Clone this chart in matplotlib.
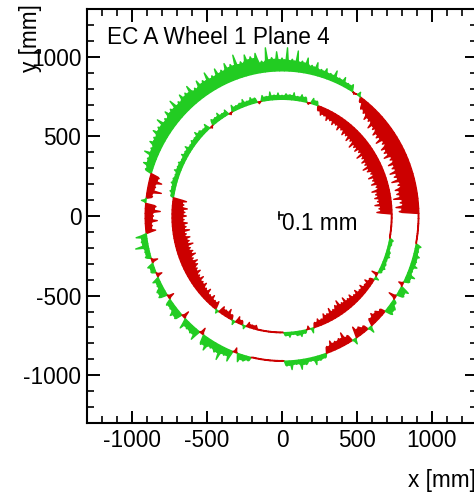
import numpy as np
import matplotlib.pyplot as plt
from matplotlib.collections import PolyCollection
from matplotlib.ticker import MultipleLocator

plt.rcParams["font.family"] = ["Liberation Sans", "DejaVu Sans"]
plt.rcParams["axes.unicode_minus"] = False

# residuals drawn around two rings, one value every STEP_DEG degrees (counter-clockwise from +x)
STEP_DEG = 2
OUTER_R = 912
INNER_R = 733

outer_res = [
    -4,
    -130, -150, -120, -160, -135,
    -140, -115, -150, -125, -145,
    -120, -135, -110, -140, -125,
    -130, -105, -135, -115, -120,
    -100, -115, -85, -95, -70,
    -60, -30,
    25, -10, 40,
    30, 55, 35, 70, 40,
    60, 45, 80, 55, 95,
    70, 130, 75, 145, 80,
    120, 85, 150, 70, 125,
    110, 130, 95, 150, 100,
    120, 90, 115, 85, 125,
    90, 110, 80, 120, 95,
    110, 85, 125, 90, 105,
    80, 115, 85, 100, 75,
    85, 60, 90, 55, 70,
    45,
    -60, -85, -50, -95, -40, 30, -70, -100, -55, -80, -45, -65,
    70, 40, 85, 30,
    35, -40, 40, 30, -35, 45,
    30, 50, 55, -40, 40, 35, 60,
    50, -45, 65, 40, 45, 70, -40,
    60, 80, 45, 55, 90, 45, 70, -30, 50, 35, 25,
    -4, -4, -4, -4, -4, -4, -4,
    30, 55, 25, 60, 35, 20, 50, 30, 25,
    -40, -65, -50, -55, -80, -45, 35, -70, -50, -35,
    40, -45, -60, -50, -35, 50, 45, 25, -50, 45, 60,
    -30, 35, 55, 25, 45, 30, 40, 25, 35,
    -4, -4, -4, -4, -4,
]

inner_res = [
    -4,
    -100, -85, -110, -90, -105,
    -95, -115, -80, -105, -90,
    -110, -85, -100, -120, -95,
    -105, -90, -115, -85, -100,
    -90, -110, -80, -95, -75,
    -85, -65, -80, -60, -70,
    -55, -65, -45, -50, -30,
    25, 35, -10, 30, 40,
    25, 45, 30, 35, 25,
    40, 28, 50, 25, 35,
    -12, 30, 40, 25, 45,
    30, 25, 40, -12, 35,
    25, 45, 30, 35, -12,
    40, 25, 35, 50, 30,
    35, 25, 45, 30, 40,
    25, 35, 30, 40, 25,
    30, 35, 25, 30, 20,
    -90, -75, -100, -85, -95,
    -80, -100, -90, -110, -85,
    -105, -95, -115, -90, -100,
    -110, -85, -105, -95, -80,
    -90, -70, -85, -65, -75,
    -55, -70, -45, -60, -40,
    -50, 20, -45, -35, -55,
    -30, 25, -40, -25, 20,
    -30, -20, -25,
    -4, -4, -4, -4, -4, -4, -4,
    20, 30, 15, 25, 35, 20, -20, 30, -30,
    -45, -35, -60, -50, -75, -55,
    -70, -90, -60, -80, -55, -65,
    -45, -60, -40, -55, -35, -50,
    -30, 25, -40, 20, 30, 25,
    20, 30, 25, 15, 20, 25,
    -4, -4, -4, -4, -4,
]

RED = "#cc0000"
GREEN = "#22cc22"


def ring_polys(r0, res):
    res = np.asarray(res, dtype=float)
    n = len(res)
    theta = np.deg2rad(np.arange(n) * STEP_DEG)
    h = np.deg2rad(STEP_DEG) / 2
    polys, colors = [], []
    for i in range(n):
        d = res[i]
        dl, dr = res[i - 1], res[(i + 1) % n]
        vl = np.sign(d) * min(abs(d), abs(dl)) * 0.85 if d * dl > 0 else 0.0
        vr = np.sign(d) * min(abs(d), abs(dr)) * 0.85 if d * dr > 0 else 0.0
        s = np.sign(d) * max(abs(vl), abs(vr), abs(d) * 0.3)
        t = theta[i]
        angs = np.array([t - h, t - h, t - 0.4 * h, t, t + 0.4 * h, t + h, t + h])
        rads = r0 + np.array([0, vl, s, d, s, vr, 0])
        polys.append(np.column_stack([rads * np.cos(angs), rads * np.sin(angs)]))
        colors.append(GREEN if d > 0 else RED)
    return polys, colors


fig = plt.figure(figsize=(4.74, 4.94), dpi=100)
ax = fig.add_axes([87 / 474, 71 / 494, 390 / 474, 414 / 494])

for r0, res in [(OUTER_R, outer_res), (INNER_R, inner_res)]:
    polys, colors = ring_polys(r0, res)
    pc = PolyCollection(polys, facecolors=colors, edgecolors=colors, linewidths=1.0)
    ax.add_collection(pc)

# scale marker
ax.plot([-18, 8], [6, 6], color="black", lw=1.2)
ax.plot([-18, -18], [-18, 25], color="black", lw=1.2)
ax.text(2, -44, "0.1 mm", fontsize=16.3, ha="left", va="center")

ax.set_xlim(-1300, 1300)
ax.set_ylim(-1300, 1300)
ax.xaxis.set_major_locator(MultipleLocator(500))
ax.xaxis.set_minor_locator(MultipleLocator(100))
ax.yaxis.set_major_locator(MultipleLocator(500))
ax.yaxis.set_minor_locator(MultipleLocator(100))
ax.tick_params(which="both", direction="in", top=True, right=True, labelsize=16.3)
ax.tick_params(which="major", length=9, width=1.4)
ax.tick_params(which="minor", length=5, width=1.2)
ax.tick_params(axis="x", pad=4)
ax.tick_params(axis="y", pad=4)
for s in ax.spines.values():
    s.set_linewidth(1.5)

fig.text(107 / 474, 1 - 38 / 494, "EC A Wheel 1 Plane 4", fontsize=16.3, ha="left", va="center")
fig.text(30 / 474, 1 - 4 / 494, "y [mm]", fontsize=16.3, rotation=90, ha="center", va="top")
fig.text(408 / 474, 1 - 480 / 494, "x [mm]", fontsize=16.3, ha="left", va="center")

fig.savefig("out.png", dpi=100)
